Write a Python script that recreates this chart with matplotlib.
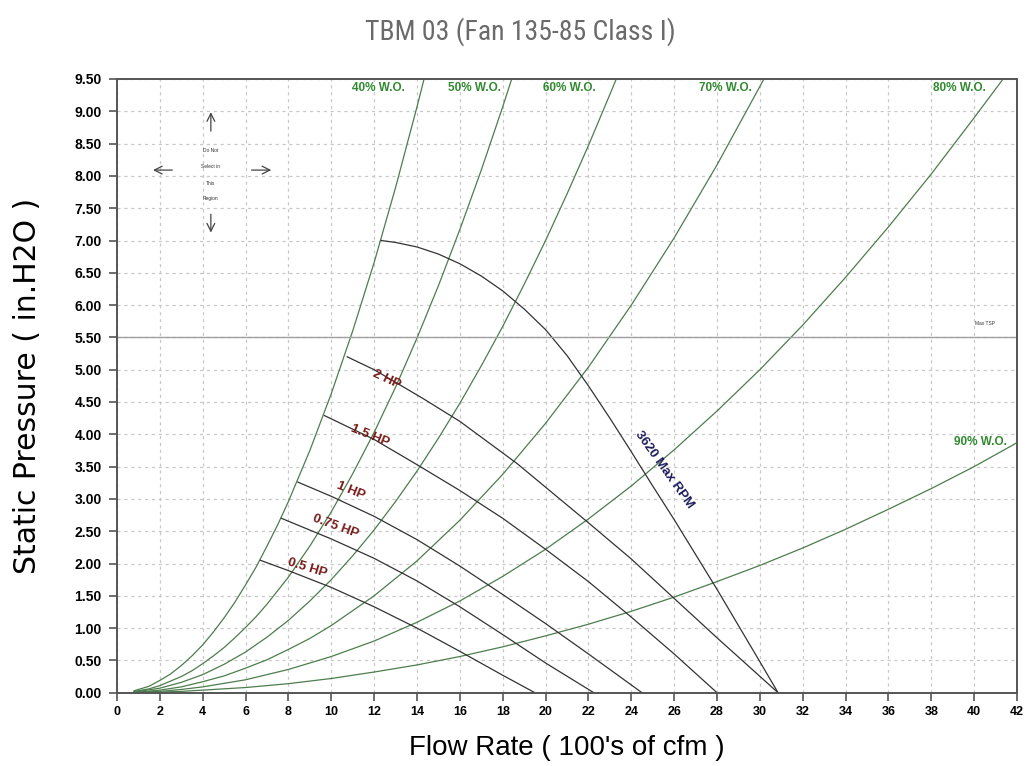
import matplotlib
matplotlib.use("Agg")
import matplotlib.pyplot as plt
from matplotlib import font_manager
from matplotlib.ticker import FormatStrFormatter

# ---------------- data ----------------
# system (wide-open) curves: flow (100's cfm) vs static pressure (in. H2O)
wo40_q = [0.8, 1, 1.5, 2, 2.5, 3, 3.5, 4, 4.5, 5, 5.5, 6, 6.5, 7, 7.5, 8, 9, 10, 11, 12, 13, 14, 14.33]
wo40_p = [0.03, 0.05, 0.10, 0.19, 0.29, 0.42, 0.57, 0.74, 0.94, 1.16, 1.40, 1.67, 1.95, 2.27, 2.60,
          2.96, 3.75, 4.63, 5.60, 6.66, 7.82, 9.07, 9.50]
wo50_q = [0.8, 1, 1.5, 2, 2.5, 3, 3.5, 4, 4.5, 5, 5.5, 6, 6.5, 7, 7.5, 8, 9, 10, 11, 12, 13, 14, 15,
          16, 17, 18, 18.42]
wo50_p = [0.02, 0.03, 0.06, 0.11, 0.18, 0.25, 0.34, 0.45, 0.57, 0.70, 0.85, 1.01, 1.18, 1.37, 1.58,
          1.79, 2.27, 2.80, 3.39, 4.03, 4.73, 5.49, 6.30, 7.17, 8.09, 9.07, 9.50]
wo60_q = [0.8, 1, 2, 3, 4, 5, 6, 7, 8, 9, 10, 11, 12, 13, 14, 15, 16, 17, 18, 19, 20, 21, 22, 23, 23.3]
wo60_p = [0.01, 0.02, 0.07, 0.16, 0.28, 0.44, 0.63, 0.86, 1.12, 1.42, 1.75, 2.12, 2.52, 2.96, 3.43,
          3.94, 4.48, 5.06, 5.67, 6.32, 7.00, 7.72, 8.47, 9.26, 9.50]
wo70_q = [0.8, 1, 2, 3, 4, 5, 6, 7, 8, 9, 10, 12, 14, 16, 18, 20, 22, 24, 26, 28, 30.19]
wo70_p = [0.01, 0.01, 0.04, 0.09, 0.17, 0.26, 0.38, 0.51, 0.67, 0.84, 1.04, 1.50, 2.04, 2.67, 3.38,
          4.17, 5.04, 6.00, 7.04, 8.17, 9.50]
wo80_q = [0.8, 1, 2, 3, 4, 6, 8, 10, 12, 14, 16, 18, 20, 22, 24, 26, 28, 30, 32, 34, 36, 38, 40, 41.35]
wo80_p = [0.00, 0.01, 0.02, 0.05, 0.09, 0.20, 0.36, 0.56, 0.80, 1.09, 1.42, 1.80, 2.22, 2.69, 3.20,
          3.76, 4.36, 5.00, 5.69, 6.43, 7.21, 8.03, 8.90, 9.50]
wo90_q = [0.8, 1, 2, 3, 4, 6, 8, 10, 12, 14, 16, 18, 20, 22, 24, 26, 28, 30, 32, 34, 36, 38, 40, 42]
wo90_p = [0.00, 0.00, 0.01, 0.02, 0.04, 0.08, 0.14, 0.22, 0.32, 0.43, 0.56, 0.71, 0.88, 1.06, 1.26,
          1.48, 1.72, 1.97, 2.24, 2.53, 2.84, 3.16, 3.50, 3.87]
wo_labels = ["40% W.O.", "50% W.O.", "60% W.O.", "70% W.O.", "80% W.O.", "90% W.O."]
wo_label_pos = [(12.2, 9.36), (16.7, 9.36), (21.1, 9.36), (28.4, 9.36), (39.3, 9.36), (40.3, 3.88)]

# fan horsepower curves
hp05_q = [6.69, 8, 10, 12, 14, 16, 18, 19.5]
hp05_p = [2.05, 1.89, 1.63, 1.33, 1.00, 0.64, 0.27, 0.00]
hp075_q = [7.67, 10, 12, 14, 16, 18, 20, 22.25]
hp075_p = [2.70, 2.38, 2.08, 1.73, 1.33, 0.90, 0.46, 0.00]
hp1_q = [8.44, 10, 12, 14, 16, 18, 20, 22, 24.5]
hp1_p = [3.26, 3.04, 2.73, 2.37, 1.96, 1.52, 1.07, 0.60, 0.00]
hp15_q = [9.68, 12, 14, 16, 18, 20, 22, 24, 26, 28.0]
hp15_p = [4.29, 3.92, 3.53, 3.13, 2.70, 2.22, 1.72, 1.17, 0.60, 0.00]
hp2_q = [10.74, 12, 14.3, 16, 18.66, 21.93, 24, 26, 28, 30.85]
hp2_p = [5.20, 5.00, 4.55, 4.20, 3.55, 2.65, 2.07, 1.46, 0.85, 0.00]
hp_labels = ["0.5 HP", "0.75 HP", "1 HP", "1.5 HP", "2 HP"]
hp_label_pos = [(8.9, 1.93), (10.2, 2.58), (10.9, 3.12), (11.8, 3.97), (12.6, 4.85)]
hp_label_rot = [-17, -20, -22, -22, -25]

# maximum rpm curve
rpm_q = [12.33, 13, 14, 15, 16, 17, 18, 19, 20, 21, 22, 23, 24, 25, 26, 27, 28, 29, 30, 30.85]
rpm_p = [7.00, 6.97, 6.90, 6.79, 6.64, 6.45, 6.22, 5.94, 5.62, 5.22, 4.75, 4.25, 3.73, 3.20, 2.68,
         2.14, 1.60, 1.04, 0.48, 0.00]
rpm_label = "3620 Max RPM"

max_tsp = 5.5

x_ticks = list(range(0, 43, 2))
y_ticks = [i * 0.5 for i in range(20)]

# ---------------- fonts ----------------
names = {f.name for f in font_manager.fontManager.ttflist}
narrow = None
for cand in ["Liberation Sans Narrow", "Roboto Condensed", "DejaVu Sans Condensed",
             "Open Sans Condensed", "Noto Sans Condensed"]:
    if cand in names:
        narrow = cand
        break
if narrow is None:
    for n in sorted(names):
        if "Narrow" in n or "Condensed" in n:
            narrow = n
            break

plt.rcParams['font.family'] = ['Liberation Sans', 'DejaVu Sans']
fig = plt.figure(figsize=(10.30, 7.66), dpi=100)
ax = fig.add_axes([117 / 1030, 1 - 692.7 / 766, (1017 - 117) / 1030, (692.7 - 79) / 766])

ax.set_xlim(0, 42)
ax.set_ylim(0, 9.5)
ax.set_xticks(x_ticks)
ax.set_yticks(y_ticks)
ax.yaxis.set_major_formatter(FormatStrFormatter('%.2f'))
ax.tick_params(axis='both', direction='out', length=6, width=1.2, colors='#555555',
               labelcolor='black')
ax.tick_params(axis='x', labelsize=9)
ax.tick_params(axis='y', labelsize=10, pad=5)
for lab in ax.get_xticklabels() + ax.get_yticklabels():
    lab.set_fontweight('bold')
ax.grid(True, color='#c8c8c8', linestyle=(0, (2.5, 3)), linewidth=0.9)
ax.set_axisbelow(True)
for s in ax.spines.values():
    s.set_color('#555555')
    s.set_linewidth(1.4)

green = '#4d7d4d'
wo_sets = [(wo40_q, wo40_p), (wo50_q, wo50_p), (wo60_q, wo60_p),
           (wo70_q, wo70_p), (wo80_q, wo80_p), (wo90_q, wo90_p)]
for q, p in wo_sets:
    ax.plot(q, p, color=green, linewidth=0.9, solid_joinstyle='round')
for lab, (lx, ly) in zip(wo_labels, wo_label_pos):
    ax.text(lx, ly, lab, color='#2f8a2f', fontsize=8.5, fontweight='bold',
            ha='center', va='center')

hp_sets = [(hp05_q, hp05_p), (hp075_q, hp075_p), (hp1_q, hp1_p),
           (hp15_q, hp15_p), (hp2_q, hp2_p)]
for q, p in hp_sets:
    ax.plot(q, p, color='#333333', linewidth=0.9, solid_joinstyle='round')
for lab, (lx, ly), r in zip(hp_labels, hp_label_pos, hp_label_rot):
    ax.text(lx, ly, lab, color='#7a1a1a', fontsize=9.5, fontweight='bold',
            ha='center', va='center', rotation=r, rotation_mode='anchor')

ax.plot(rpm_q, rpm_p, color='#333333', linewidth=0.9, solid_joinstyle='round')
ax.text(25.55, 3.45, rpm_label, color='#1c1c5a', fontsize=9.5, fontweight='bold',
        ha='center', va='center', rotation=-54.5, rotation_mode='anchor')

ax.axhline(max_tsp, color='#a0a0a0', linewidth=1.0)
ax.text(40.5, 5.72, "Max TSP", fontsize=3.5, color='#333333', ha='center', va='center')

# "Do Not Select in This Region" marker
arr = dict(arrowstyle='->', color='#444444', lw=0.9, mutation_scale=14)
ax.annotate('', xy=(4.38, 9.03), xytext=(4.38, 8.65), arrowprops=arr)
ax.annotate('', xy=(4.38, 7.08), xytext=(4.38, 7.45), arrowprops=arr)
ax.annotate('', xy=(1.55, 8.09), xytext=(2.71, 8.09), arrowprops=arr)
ax.annotate('', xy=(7.33, 8.09), xytext=(6.15, 8.09), arrowprops=arr)
for txt, yy in zip(["Do Not", "Select in", "This", "Region"], [8.40, 8.15, 7.89, 7.65]):
    ax.text(4.38, yy, txt, fontsize=3.5, color='#333333', ha='center', va='center')

ax.set_xlabel("Flow Rate ( 100's of cfm )", fontsize=20, labelpad=12)
ax.set_ylabel("Static Pressure ( in.H2O )", fontsize=21.5, family=['DejaVu Sans'])
ax.yaxis.set_label_coords(-0.083, 0.5)

title_kw = dict(ha='center', va='center', color='#6a6a6a')
if narrow is not None:
    fig.text(0.505, 1 - 32 / 766, "TBM 03 (Fan 135-85 Class I)", fontsize=20,
             family=[narrow, 'DejaVu Sans'], **title_kw)
else:
    fig.text(0.5, 1 - 32 / 766, "TBM 03 (Fan 135-85 Class I)", fontsize=17,
             family=['Roboto', 'DejaVu Sans'], fontweight='light', **title_kw)

fig.savefig("out.png", dpi=100)
